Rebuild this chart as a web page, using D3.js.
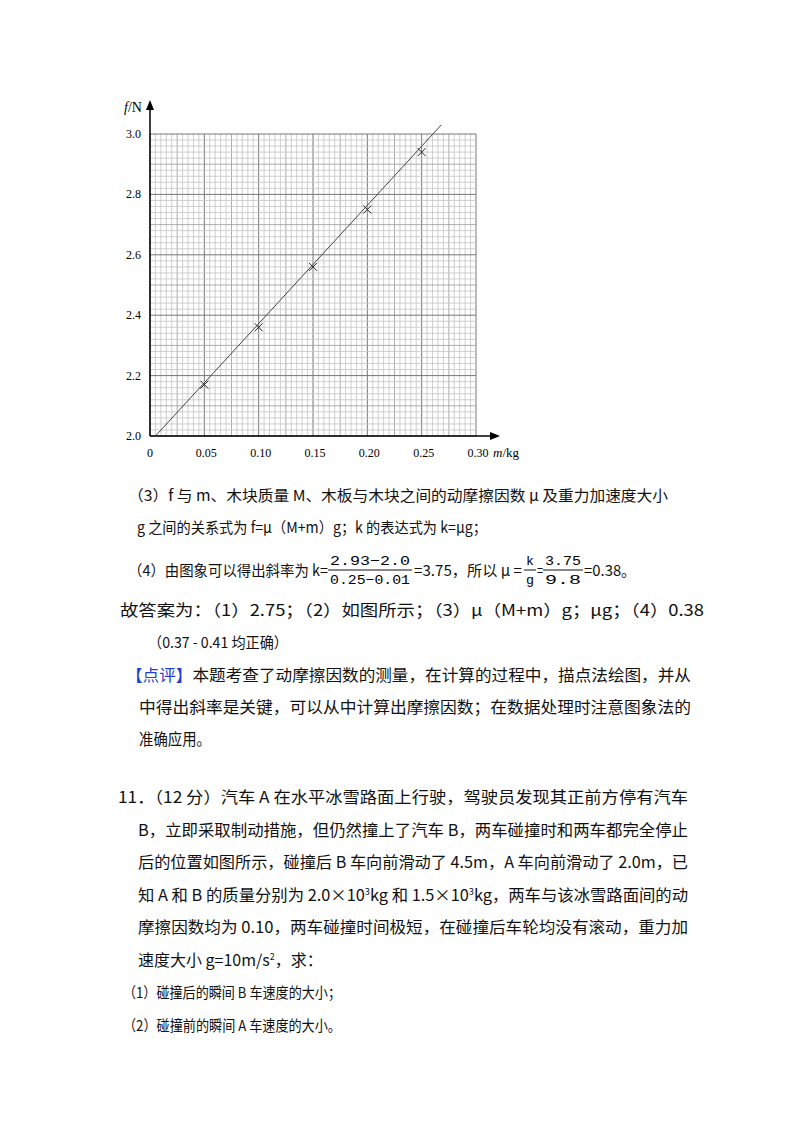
<!DOCTYPE html><html><head><meta charset="utf-8">
<script src="https://cdn.jsdelivr.net/npm/d3@7"></script>
<style>body{margin:0;background:#fff}</style></head><body>
<svg id="c" width="800" height="1132"></svg>
<script>
const massKg=[0.05,0.10,0.15,0.20,0.25];
const frictionN=[2.17,2.36,2.56,2.75,2.94];
const fitLine=[[0.005,2.0],[0.268,3.03]];
const xTicks=["0","0.05","0.10","0.15","0.20","0.25","0.30"];
const xTickVals=[0,0.05,0.10,0.15,0.20,0.25,0.30];
const yTicks=[2.0,2.2,2.4,2.6,2.8,3.0];

const svg=d3.select("#c");
const x=d3.scaleLinear().domain([0,0.30]).range([150,476]);
const y=d3.scaleLinear().domain([2.0,3.0]).range([436,134]);
const g=svg.append("g");
d3.range(0,61).forEach(i=>{const v=i*0.005;
 g.append("line").attr("x1",x(v)).attr("x2",x(v)).attr("y1",y(2)).attr("y2",y(3))
  .attr("stroke",i%10==0?"#777":(i%5==0?"#999":"#c4c4c4")).attr("stroke-width",i%10==0?1:0.8);});
d3.range(0,51).forEach(i=>{const v=2+i*0.02;
 g.append("line").attr("y1",y(v)).attr("y2",y(v)).attr("x1",x(0)).attr("x2",x(0.30))
  .attr("stroke",i%10==0?"#777":(i%5==0?"#999":"#c4c4c4")).attr("stroke-width",i%10==0?1:0.8);});
g.append("line").attr("x1",x(0)).attr("x2",x(0)).attr("y1",y(2)).attr("y2",104).attr("stroke","#000").attr("stroke-width",1.5);
g.append("path").attr("d",`M${x(0)},100 l-4,10 l8,0z`).attr("fill","#000");
g.append("line").attr("x1",x(0)).attr("x2",496).attr("y1",y(2)).attr("y2",y(2)).attr("stroke","#000").attr("stroke-width",1.5);
g.append("path").attr("d",`M500,${y(2)} l-10,-4 l0,8z`).attr("fill","#000");
const ff="'Liberation Serif','DejaVu Serif',serif";
xTickVals.forEach((v,i)=>g.append("text").attr("x",x(v)+(i==0?0:2)).attr("y",457).attr("text-anchor","middle")
 .attr("font-family",ff).attr("font-size",12).text(xTicks[i]));
g.append("text").attr("x",493).attr("y",457).attr("font-family",ff).attr("font-size",13)
 .html("<tspan font-style='italic'>m</tspan>/kg");
yTicks.forEach(v=>g.append("text").attr("x",141).attr("y",y(v)+4).attr("text-anchor","end")
 .attr("font-family",ff).attr("font-size",12).text(v.toFixed(1)));
g.append("text").attr("x",124).attr("y",112).attr("font-family",ff).attr("font-size",14)
 .html("<tspan font-style='italic'>f</tspan>/N");
g.append("line").attr("x1",x(fitLine[0][0])).attr("y1",y(fitLine[0][1])).attr("x2",x(fitLine[1][0])).attr("y2",y(fitLine[1][1]))
 .attr("stroke","#444").attr("stroke-width",1);
massKg.forEach((m,i)=>{const cx=x(m),cy=y(frictionN[i]);
 g.append("path").attr("d",`M${cx-4},${cy-4}L${cx+4},${cy+4}M${cx-4},${cy+4}L${cx+4},${cy-4}`).attr("stroke","#222").attr("stroke-width",1);});

const cf="'Noto Sans CJK SC','Noto Sans',sans-serif";
function t(xx,yy,s,len,fs){const e=svg.append("text").attr("x",xx).attr("y",yy).attr("font-family",cf).attr("font-size",fs||16).attr("fill","#111").text(s);
 if(len){e.attr("textLength",len).attr("lengthAdjust","spacingAndGlyphs");}return e;}
const mf="'Liberation Mono','DejaVu Sans Mono',monospace";
function frac(cx,num,den,w,fs){
 svg.append("text").attr("x",cx).attr("y",565).attr("text-anchor","middle").attr("font-family",mf).attr("font-size",fs).attr("textLength",w).attr("lengthAdjust","spacingAndGlyphs").text(num);
 svg.append("line").attr("x1",cx-w/2-2).attr("x2",cx+w/2+2).attr("y1",570).attr("y2",570).attr("stroke","#111");
 svg.append("text").attr("x",cx).attr("y",584).attr("text-anchor","middle").attr("font-family",mf).attr("font-size",fs).attr("textLength",w).attr("lengthAdjust","spacingAndGlyphs").text(den);
}
t(128,501,"（3）f 与 m、木块质量 M、木板与木块之间的动摩擦因数 μ 及重力加速度大小",540,15);
t(137,533,"g 之间的关系式为 f=μ（M+m）g；k 的表达式为 k=μg；",350,15);
t(128,576,"（4）由图象可以得出斜率为 k=",200,15);
frac(370,"2.93−2.0","0.25−0.01",80,13);
t(414,576,"=3.75，所以 μ =",108,15);
frac(530,"k","g",8,13);
t(537,576,"=",6,15);
frac(563,"3.75","9.8",36,13);
t(584,576,"=0.38。",52,15);
t(120,616,"故答案为：（1）2.75；（2）如图所示；（3）μ（M+m）g；μg；（4）0.38",584);
t(148,648,"（0.37 - 0.41 均正确）",140,15);
const p=t(126,681,"",565);p.append("tspan").attr("fill","#1f3fd0").text("【点评】");p.append("tspan").text("本题考查了动摩擦因数的测量，在计算的过程中，描点法绘图，并从");
t(139,713,"中得出斜率是关键，可以从中计算出摩擦因数；在数据处理时注意图象法的",552);
t(139,745,"准确应用。",72);
t(118,803,"11．（12 分）汽车 A 在水平冰雪路面上行驶，驾驶员发现其正前方停有汽车",570);
t(138,836,"B，立即采取制动措施，但仍然撞上了汽车 B，两车碰撞时和两车都完全停止",550);
t(138,868,"后的位置如图所示，碰撞后 B 车向前滑动了 4.5m，A 车向前滑动了 2.0m，已",550);
const q=t(138,901,"",550);q.append("tspan").text("知 A 和 B 的质量分别为 2.0×10");q.append("tspan").attr("font-size",9).attr("dy",-6).text("3");
q.append("tspan").attr("dy",6).text("kg 和 1.5×10");q.append("tspan").attr("font-size",9).attr("dy",-6).text("3");q.append("tspan").attr("dy",6).text("kg，两车与该冰雪路面间的动");
t(138,933,"摩擦因数均为 0.10，两车碰撞时间极短，在碰撞后车轮均没有滚动，重力加",550);
const r=t(138,966,"");r.append("tspan").text("速度大小 g=10m/s");r.append("tspan").attr("font-size",9).attr("dy",-6).text("2");r.append("tspan").attr("dy",6).text("，求：");
t(123,998,"（1）碰撞后的瞬间 B 车速度的大小；",218,15);
t(123,1031,"（2）碰撞前的瞬间 A 车速度的大小。",218,15);
</script></body></html>
